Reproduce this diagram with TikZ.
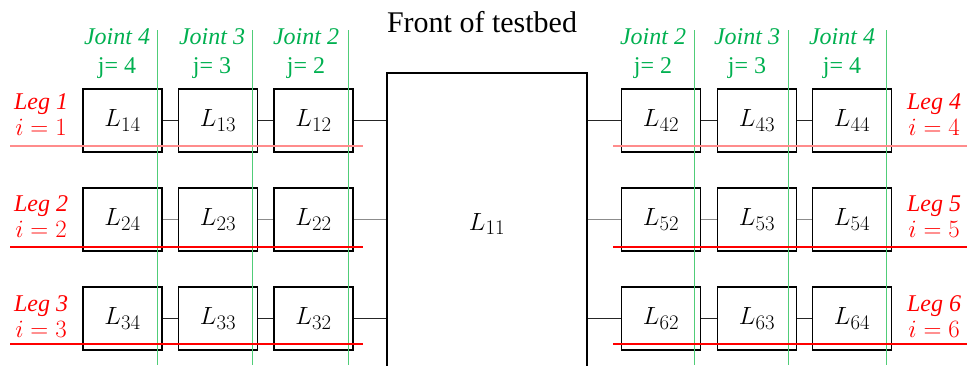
\documentclass[tikz,border=0pt]{standalone}
\usepackage{fontspec}
\newfontfamily\titlefont{Liberation Serif}
\newfontfamily\lblfont{Liberation Serif}
\definecolor{jgreen}{RGB}{0,176,80}
\definecolor{jline}{RGB}{80,205,120}
\begin{document}
\begin{tikzpicture}[x=1pt,y=-1pt,
  linkbox/.style={draw=black,line width=1.8pt,minimum width=79pt,minimum height=63pt,inner sep=0pt,font=\fontsize{29}{32}\selectfont},
  bodybox/.style={draw=black,line width=1.5pt,inner sep=0pt,font=\fontsize{29}{32}\selectfont},
  conn/.style={line width=1.3pt,draw=black!85},
  conngrey/.style={line width=1.5pt,draw=black!45},
  jointline/.style={line width=0.8pt,draw=jline},
  legline/.style={line width=1.5pt,draw=red},
  leglinefaint/.style={line width=2.2pt,draw=red!45},
  jlabel/.style={text=jgreen,font=\lblfont\fontsize{24}{29}\selectfont,align=center,inner sep=0pt},
  leglabel/.style={text=red,font=\lblfont\fontsize{24}{26}\selectfont,align=center,inner sep=0pt},
  titletext/.style={font=\titlefont\fontsize{30}{34}\selectfont,inner sep=0pt}]
\useasboundingbox (0,0) rectangle (967,365);
\clip (0,0) rectangle (967,365);

% title
\node[titletext] (title) at (482,22) {Front of testbed};

% body
\node[bodybox,minimum width=200pt,minimum height=302pt] (body) at (487,224) {$L_{11}$};

% left links
\node[linkbox] (l14) at (122.5,120.5) {$L_{14}$};
\node[linkbox] (l13) at (218,120.5) {$L_{13}$};
\node[linkbox] (l12) at (313.5,120.5) {$L_{12}$};
\node[linkbox] (l24) at (122.5,219.5) {$L_{24}$};
\node[linkbox] (l23) at (218,219.5) {$L_{23}$};
\node[linkbox] (l22) at (313.5,219.5) {$L_{22}$};
\node[linkbox] (l34) at (122.5,318.5) {$L_{34}$};
\node[linkbox] (l33) at (218,318.5) {$L_{33}$};
\node[linkbox] (l32) at (313.5,318.5) {$L_{32}$};
% right links
\node[linkbox] (l42) at (661,120.5) {$L_{42}$};
\node[linkbox] (l43) at (757,120.5) {$L_{43}$};
\node[linkbox] (l44) at (852,120.5) {$L_{44}$};
\node[linkbox] (l52) at (661,219.5) {$L_{52}$};
\node[linkbox] (l53) at (757,219.5) {$L_{53}$};
\node[linkbox] (l54) at (852,219.5) {$L_{54}$};
\node[linkbox] (l62) at (661,318.5) {$L_{62}$};
\node[linkbox] (l63) at (757,318.5) {$L_{63}$};
\node[linkbox] (l64) at (852,318.5) {$L_{64}$};

% connectors
\draw[conn] (l14) -- (l13);
\draw[conn] (l13) -- (l12);
\draw[conn] (l12.east) -- (l12.east -| body.west);
\draw[conngrey] (l24) -- (l23);
\draw[conngrey] (l23) -- (l22);
\draw[conngrey] (l22.east) -- (l22.east -| body.west);
\draw[conn] (l34) -- (l33);
\draw[conn] (l33) -- (l32);
\draw[conn] (l32.east) -- (l32.east -| body.west);
\draw[conn] (l42.west -| body.east) -- (l42.west);
\draw[conn] (l42) -- (l43);
\draw[conn] (l43) -- (l44);
\draw[conngrey] (l52.west -| body.east) -- (l52.west);
\draw[conngrey] (l52) -- (l53);
\draw[conngrey] (l53) -- (l54);
\draw[conn] (l62.west -| body.east) -- (l62.west);
\draw[conn] (l62) -- (l63);
\draw[conn] (l63) -- (l64);

% joint lines
\coordinate (jl4t) at (157,30);  \coordinate (jl4b) at (157,365);
\coordinate (jl3t) at (252,30);  \coordinate (jl3b) at (252,365);
\coordinate (jl2t) at (348,30);  \coordinate (jl2b) at (348,365);
\coordinate (jr2t) at (694,30);  \coordinate (jr2b) at (694,365);
\coordinate (jr3t) at (788,30);  \coordinate (jr3b) at (788,365);
\coordinate (jr4t) at (886,30);  \coordinate (jr4b) at (886,365);
\draw[jointline] (jl4t) -- (jl4b);
\draw[jointline] (jl3t) -- (jl3b);
\draw[jointline] (jl2t) -- (jl2b);
\draw[jointline] (jr2t) -- (jr2b);
\draw[jointline] (jr3t) -- (jr3b);
\draw[jointline] (jr4t) -- (jr4b);

% leg lines
\coordinate (g1a) at (10,146);  \coordinate (g1b) at (363,146);
\coordinate (g2a) at (10,247);  \coordinate (g2b) at (363,247);
\coordinate (g3a) at (10,344);  \coordinate (g3b) at (363,344);
\coordinate (g4a) at (613,146); \coordinate (g4b) at (967,146);
\coordinate (g5a) at (613,247); \coordinate (g5b) at (967,247);
\coordinate (g6a) at (613,344); \coordinate (g6b) at (967,344);
\draw[leglinefaint] (g1a) -- (g1b);
\draw[legline] (g2a) -- (g2b);
\draw[legline] (g3a) -- (g3b);
\draw[leglinefaint] (g4a) -- (g4b);
\draw[legline] (g5a) -- (g5b);
\draw[legline] (g6a) -- (g6b);

% joint labels
\node[jlabel] (jt4l) at (117,54) {\textit{Joint 4}\\j= 4};
\node[jlabel] (jt3l) at (212,54) {\textit{Joint 3}\\j= 3};
\node[jlabel] (jt2l) at (306,54) {\textit{Joint 2}\\j= 2};
\node[jlabel] (jt2r) at (653,54) {\textit{Joint 2}\\j= 2};
\node[jlabel] (jt3r) at (747,54) {\textit{Joint 3}\\j= 3};
\node[jlabel] (jt4r) at (842,54) {\textit{Joint 4}\\j= 4};

% leg labels
\node[leglabel] (leg1) at (41,115) {\textit{Leg 1}\\$i = 1$};
\node[leglabel] (leg2) at (41,217) {\textit{Leg 2}\\$i = 2$};
\node[leglabel] (leg3) at (41,317) {\textit{Leg 3}\\$i = 3$};
\node[leglabel] (leg4) at (934,115) {\textit{Leg 4}\\$i = 4$};
\node[leglabel] (leg5) at (934,217) {\textit{Leg 5}\\$i = 5$};
\node[leglabel] (leg6) at (934,317) {\textit{Leg 6}\\$i = 6$};
\end{tikzpicture}
\end{document}
